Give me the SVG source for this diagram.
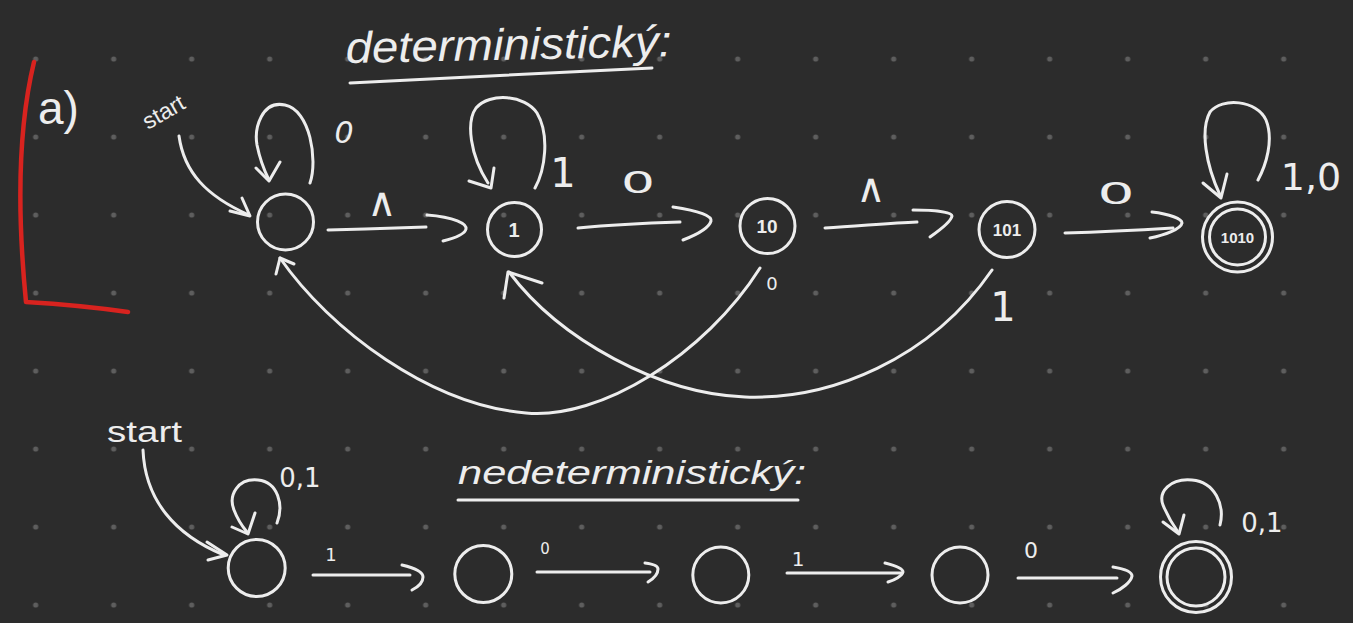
<svg xmlns="http://www.w3.org/2000/svg" width="1353" height="623" viewBox="0 0 1353 623">
  <defs>
    <pattern id="dots" patternUnits="userSpaceOnUse" x="-3.3" y="20" width="78" height="78">
      <circle cx="39" cy="39" r="2.6" fill="#5e5e5e"/>
    </pattern>
    <style>
      .s { fill: none; stroke: #ededed; stroke-width: 3; stroke-linecap: round; stroke-linejoin: round; }
      .n { fill: none; stroke: #ededed; stroke-width: 3; }
      .t { fill: #ededed; font-family: "Liberation Sans", "DejaVu Sans", sans-serif; }
      .lab { fill: #ededed; font-family: "DejaVu Sans", "Liberation Sans", sans-serif; text-anchor: middle; }
      .in { fill: #ededed; font-family: "Liberation Sans", sans-serif; font-weight: bold; text-anchor: middle; }
      .red { fill: none; stroke: #d8231f; stroke-width: 4.5; stroke-linecap: round; stroke-linejoin: round; }
    </style>
  </defs>

  <rect width="1353" height="623" fill="#2c2c2c"/>
  <rect width="1353" height="623" fill="url(#dots)"/>

  <!-- red margin mark -->
  <g id="margin">
    <path class="red" d="M34,62 C20,120 16,200 26,302 C60,304 100,308 128,312"/>
    <text class="t" x="38" y="124" font-size="46">a)</text>
  </g>

  <!-- titles -->
  <g id="title-det">
    <text class="t" x="346" y="63" font-size="44" font-style="italic" textLength="326" lengthAdjust="spacingAndGlyphs" transform="rotate(-1.2 346 63)">deterministický:</text>
    <path class="s" d="M350,83 C450,78 560,72 652,68"/>
  </g>
  <g id="title-nedet">
    <text class="t" x="458" y="484" font-size="34" font-style="italic" textLength="348" lengthAdjust="spacingAndGlyphs">nedeterministický:</text>
    <path class="s" d="M458,500 L798,500"/>
  </g>

  <!-- connectors -->
  <g id="connectors">
    <!-- deterministic -->
    <path class="s" d="M179,136 C184,172 206,196 249,215"/>
    <path class="s" d="M230,211 L250,216 L242,198"/>

    <path class="s" d="M310,183 C318,160 310,110 285,105 C262,100 254,128 257,145 C260,160 264,170 269,180"/>
    <path class="s" d="M256,168 L269,181 L280,162"/>

    <path class="s" d="M328,230 C360,229 400,228 426,227"/>
    <path class="s" d="M427,215 C455,217 467,224 466,229 C465,234 455,238 443,241"/>

    <path class="s" d="M535,188 C545,170 550,135 537,113 C525,95 490,92 476,108 C466,122 470,155 488,183"/>
    <path class="s" d="M469,181 L491,188 L494,168"/>

    <path class="s" d="M578,228 C610,225 650,223 680,222"/>
    <path class="s" d="M673,207 C700,211 712,216 711,221 C709,228 696,235 683,240"/>

    <path class="s" d="M825,228 C860,226 890,223 917,222"/>
    <path class="s" d="M913,210 C935,210 952,212 952,216 C951,222 940,230 930,237"/>

    <path class="s" d="M1065,233 C1100,232 1140,230 1173,228"/>
    <path class="s" d="M1152,212 C1170,214 1182,219 1182,223 C1181,229 1165,235 1150,238"/>

    <path class="s" d="M1258,180 C1266,165 1274,140 1266,120 C1257,100 1222,97 1210,112 C1200,130 1206,165 1220,195"/>
    <path class="s" d="M1203,183 L1221,198 L1227,174"/>

    <path class="s" d="M760,268 C705,355 600,420 526,413 C430,405 330,330 280,258"/>
    <path class="s" d="M276,274 L280,258 L294,264"/>

    <path class="s" d="M992,270 C930,360 830,400 745,397 C660,394 560,340 509,272"/>
    <path class="s" d="M504,298 L508,272 L542,283"/>

    <!-- nondeterministic -->
    <path class="s" d="M143,450 C145,500 175,535 224,555"/>
    <path class="s" d="M207,542 L227,555 L208,560"/>

    <path class="s" d="M277,523 C284,505 278,482 258,480 C238,478 228,495 234,510 C237,518 242,526 247,532"/>
    <path class="s" d="M232,527 L248,534 L255,513"/>

    <path class="s" d="M313,575 L410,575"/>
    <path class="s" d="M402,565 C415,568 423,572 423,577 C423,582 418,587 412,590"/>

    <path class="s" d="M537,572 L650,572"/>
    <path class="s" d="M645,563 C653,564 658,566 658,569 C658,574 653,579 648,582"/>

    <path class="s" d="M787,573 L902,573"/>
    <path class="s" d="M885,563 C897,566 903,569 903,572 C902,576 895,580 888,582"/>

    <path class="s" d="M1018,578 L1117,578"/>
    <path class="s" d="M1113,567 C1125,569 1132,572 1132,576 C1131,582 1122,589 1113,593"/>

    <path class="s" d="M1220,525 C1225,505 1215,482 1192,480 C1170,478 1158,492 1163,505 C1167,515 1173,525 1178,532"/>
    <path class="s" d="M1163,522 L1179,534 L1184,515"/>
  </g>

  <!-- edge labels -->
  <g id="edge-labels">
    <text class="t" x="148" y="130" font-size="23" transform="rotate(-30 148 130)">start</text>
    <text class="lab" x="344" y="143" font-size="30" font-style="italic">0</text>
    <text class="lab" x="382" y="216" font-size="40">∧</text>
    <text class="lab" x="563" y="187" font-size="40">1</text>
    <text class="lab" x="638" y="193" font-size="30" textLength="34" lengthAdjust="spacingAndGlyphs">0</text>
    <text class="lab" x="871" y="202" font-size="40">∧</text>
    <text class="lab" x="1116" y="204" font-size="30" textLength="37" lengthAdjust="spacingAndGlyphs">0</text>
    <text class="lab" x="1311" y="190" font-size="38">1,0</text>
    <text class="lab" x="772" y="290" font-size="18">0</text>
    <text class="lab" x="1003" y="321" font-size="40">1</text>

    <text class="t" x="107" y="442" font-size="30" textLength="75" lengthAdjust="spacingAndGlyphs">start</text>
    <text class="lab" x="300" y="487" font-size="26">0,1</text>
    <text class="lab" x="331" y="561" font-size="18">1</text>
    <text class="lab" x="545" y="554" font-size="15">0</text>
    <text class="lab" x="798" y="566" font-size="20">1</text>
    <text class="lab" x="1031" y="558" font-size="22">0</text>
    <text class="lab" x="1262" y="532" font-size="26">0,1</text>
  </g>

  <!-- deterministic nodes -->
  <g id="d0"><circle class="n" cx="285.5" cy="222" r="28"/></g>
  <g id="d1"><circle class="n" cx="514.5" cy="229.5" r="27"/><text class="in" x="514" y="237" font-size="20">1</text></g>
  <g id="d10"><circle class="n" cx="767.5" cy="226" r="27.5"/><text class="in" x="767" y="233" font-size="19">10</text></g>
  <g id="d101"><circle class="n" cx="1007" cy="229.5" r="28"/><text class="in" x="1007" y="236" font-size="17">101</text></g>
  <g id="d1010"><circle class="n" cx="1237.5" cy="237" r="35"/><circle class="n" cx="1237.5" cy="237" r="28"/><text class="in" x="1237.5" y="243" font-size="15">1010</text></g>

  <!-- nondeterministic nodes -->
  <g id="n0"><circle class="n" cx="256.7" cy="568" r="28.5"/></g>
  <g id="n1"><circle class="n" cx="483.3" cy="574" r="28.5"/></g>
  <g id="n2"><circle class="n" cx="720.8" cy="575" r="28"/></g>
  <g id="n3"><circle class="n" cx="960" cy="575" r="28"/></g>
  <g id="n4"><circle class="n" cx="1196" cy="577" r="35.5"/><circle class="n" cx="1196" cy="577" r="29"/></g>
</svg>
